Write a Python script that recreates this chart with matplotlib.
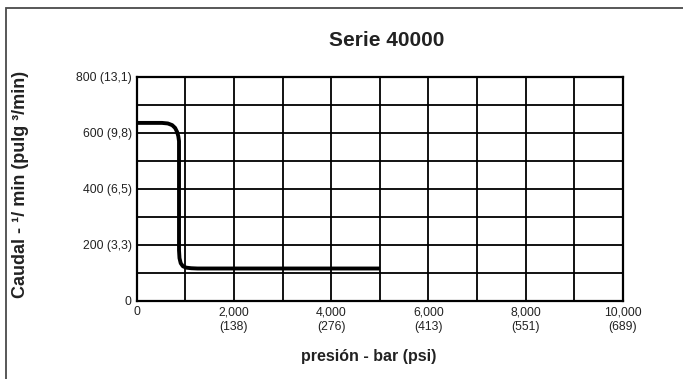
import matplotlib
matplotlib.use("Agg")
import matplotlib.pyplot as plt
from matplotlib.patches import Rectangle
import numpy as np

plt.rcParams['font.family'] = ['Liberation Sans', 'DejaVu Sans']

# flow curve: pressure (psi) vs flow (l/min)
pressure = [0, 520, 640, 730, 790, 830, 855, 870, 870, 880, 905, 950, 1020, 1120, 1250, 5000]
flow = [635, 635, 633, 627, 617, 603, 588, 570, 180, 152, 134, 123, 118, 116, 115, 115]

x_ticks = [0, 2000, 4000, 6000, 8000, 10000]
x_labels = ["0", "2,000\n(138)", "4,000\n(276)", "6,000\n(413)", "8,000\n(551)", "10,000\n(689)"]
y_ticks = [0, 200, 400, 600, 800]
y_labels = ["0", "200 (3,3)", "400 (6,5)", "600 (9,8)", "800 (13,1)"]
x_grid = np.arange(1000, 10000, 1000)
y_grid = np.arange(100, 800, 100)

W, H = 683, 379
fig = plt.figure(figsize=(W / 100, H / 100), dpi=100)

# outer frame
fig.patches.append(Rectangle((6 / W, -0.05), 1.2, (H - 8) / H + 0.05,
                             transform=fig.transFigure, fill=False,
                             edgecolor="#4a4a4a", linewidth=1.3))

ax = fig.add_axes([136.7 / W, 78.3 / H, 486.3 / W, 224 / H])
ax.set_xlim(0, 10000)
ax.set_ylim(0, 800)

for gx in x_grid:
    ax.axvline(gx, color="black", linewidth=1.3, zorder=1)
for gy in y_grid:
    ax.axhline(gy, color="black", linewidth=1.3, zorder=1)
for s in ax.spines.values():
    s.set_linewidth(1.6)
    s.set_color("black")

ax.set_xticks(x_ticks)
ax.set_xticklabels(x_labels, fontsize=8.8, linespacing=1.25, color="#222222")
ax.set_yticks(y_ticks)
ax.set_yticklabels(y_labels, fontsize=8.8, color="#222222")
ax.tick_params(axis="y", length=0, pad=3.5)
ax.tick_params(axis="x", length=0, pad=4)

ax.plot(pressure, flow, color="black", linewidth=2.8, zorder=3,
        solid_joinstyle="round", solid_capstyle="butt")

fig.text(387 / W, 1 - 40 / H, "Serie 40000", fontsize=15, fontweight="bold",
         ha="center", va="center", color="#222222")
fig.text(21 / W, 1 - 184 / H, "Caudal - \u00b9/ min (pulg \u00b3/min)", fontsize=13,
         fontweight="bold", rotation=90, ha="center", va="center", color="#222222")
fig.text(369 / W, 1 - 357 / H, "presión - bar (psi)", fontsize=11.5,
         fontweight="bold", ha="center", va="center", color="#222222")

fig.savefig("out.png", dpi=100)
